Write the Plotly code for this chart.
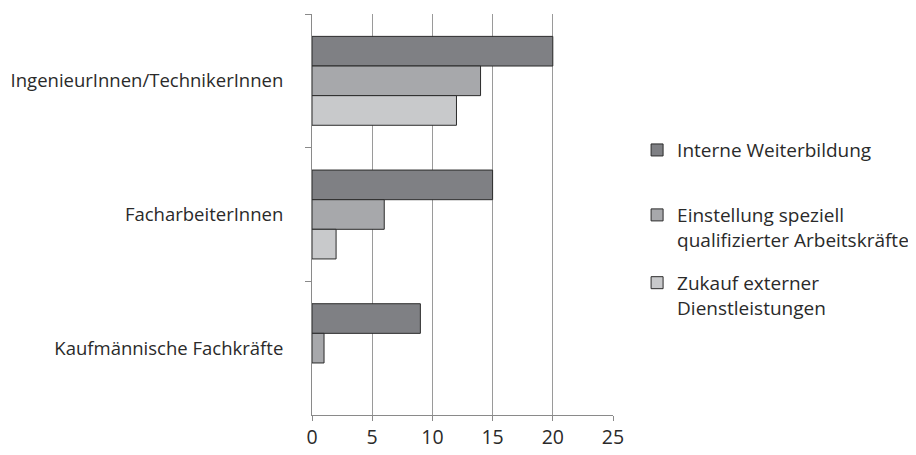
import plotly.graph_objects as go

categories = ["IngenieurInnen/TechnikerInnen", "FacharbeiterInnen", "Kaufmännische Fachkräfte"]
series_names = [
    "Interne Weiterbildung",
    "Einstellung speziell<br>qualifizierter Arbeitskräfte",
    "Zukauf externer<br>Dienstleistungen",
]
interne = [20, 15, 9]
einstellung = [14, 6, 1]
zukauf = [12, 2, 0]
x_ticks = [0, 5, 10, 15, 20, 25]

colors = ["#7f8084", "#a7a8ab", "#c8c9cb"]
values = [interne, einstellung, zukauf]
legend_ids = ["legend", "legend2", "legend3"]
legend_y = [0.708, 0.546, 0.377]

FONT = "Open Sans"
TXT = "#2a2a2a"

fig = go.Figure()
for i, (name, vals) in enumerate(zip(series_names, values)):
    fig.add_trace(go.Bar(
        y=categories, x=vals, name=name, orientation="h",
        marker=dict(color=colors[i],
                    line=dict(color="#2b2b2b", width=[1 if v > 0 else 0 for v in vals])),
        legend=legend_ids[i],
    ))

def leg(y):
    return dict(
        x=1.08, xanchor="left", y=y, yanchor="top",
        valign="top", itemwidth=30,
        font=dict(family=FONT, size=19, color=TXT),
        bgcolor="rgba(0,0,0,0)",
    )

fig.update_layout(
    width=916, height=455,
    margin=dict(l=304, r=311, t=6, b=48, autoexpand=False),
    paper_bgcolor="white", plot_bgcolor="white",
    barmode="group", bargap=0.335, bargroupgap=0,
    font=dict(family=FONT, size=18.5, color=TXT),
    showlegend=True,
    legend=leg(legend_y[0]),
    legend2=leg(legend_y[1]),
    legend3=leg(legend_y[2]),
    xaxis=dict(
        range=[0, 25], tickvals=x_ticks, ticktext=[str(v) for v in x_ticks],
        showgrid=True, gridcolor="#9a9a9a", gridwidth=1,
        showline=True, linecolor="#8a8a8a", linewidth=1,
        ticks="outside", ticklen=5, tickcolor="#8a8a8a",
        zeroline=False, tickfont=dict(size=19.5), automargin=False,
    ),
    yaxis=dict(
        autorange=False, range=[2.5, -0.5],
        showline=True, linecolor="#8a8a8a", linewidth=1,
        ticks="outside", ticklen=6, tickcolor="#8a8a8a", tickson="boundaries",
        showgrid=False, ticklabelstandoff=24, automargin=False,
    ),
)

fig.write_html("out.html")
